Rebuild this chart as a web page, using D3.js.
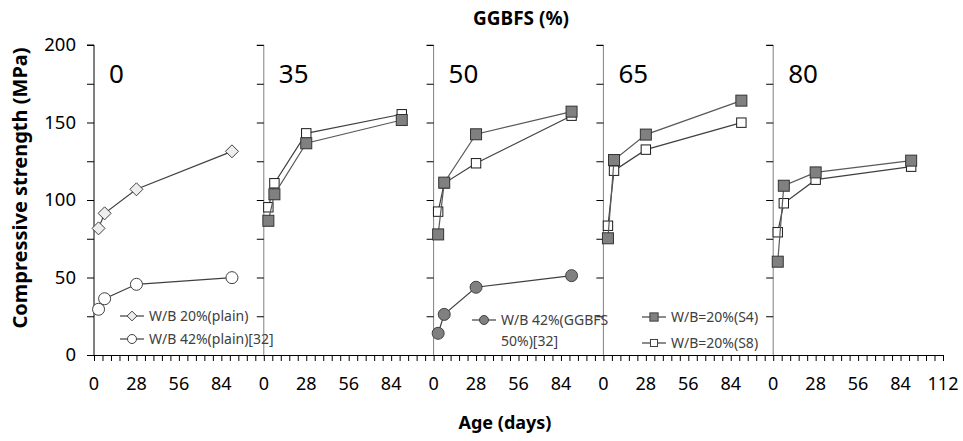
<!DOCTYPE html>
<html>
<head>
<meta charset="utf-8">
<script src="https://cdn.jsdelivr.net/npm/d3@7"></script>
<style>
  body { margin: 0; background: #fff; }
  text { font-family: "Noto Sans", "Open Sans", sans-serif; }
</style>
</head>
<body>
<div id="chart"></div>
<script>
// GGBFS panels, compressive strength vs age

// data
var ggbfsLevels = [0, 35, 50, 65, 80];
var ageDays = [3, 7, 28, 91];
var plainWB20 = [81.7, 91.4, 106.9, 131.4];
var plainWB42 = [29.5, 36.3, 45.6, 49.9];
var ggbfs50WB42 = [14.0, 26.2, 43.7, 51.2];
// S4 and S8 values, one row per panel 35, 50, 65, 80
var s4Values = [
  [86.6, 103.7, 136.6, 151.6],
  [77.8, 111.2, 142.4, 157.0],
  [75.3, 125.8, 142.2, 164.1],
  [60.2, 109.2, 117.8, 125.4]
];
var s8Values = [
  [95.3, 110.8, 143.0, 155.3],
  [92.5, 110.8, 123.7, 154.4],
  [83.4, 118.9, 132.5, 149.9],
  [79.2, 97.9, 113.1, 121.5]
];
var yTicks = [0, 25, 50, 75, 100, 125, 150, 175, 200];

var width = 963, height = 441;
var panelDays = 112;
var lineColor = "#404040";

var svg = d3.select("#chart").append("svg")
  .attr("width", width)
  .attr("height", height);

// one continuous age axis, 112 days per panel
var xScale = d3.scaleLinear()
  .domain([0, panelDays * ggbfsLevels.length])
  .range([94, 943]);

var yScale = d3.scaleLinear()
  .domain([0, 200])
  .range([355, 45]);

// x axis: minor ticks every 5.6 days, labels every 28
var minorTicks = d3.range(0, panelDays * ggbfsLevels.length + 0.01, 5.6);
var labelTicks = d3.range(0, panelDays * ggbfsLevels.length + 0.01, 28);

var xAxis = d3.axisBottom(xScale)
  .tickValues(minorTicks)
  .tickSize(6)
  .tickFormat("");

var gx = svg.append("g")
  .attr("transform", "translate(0," + yScale(0) + ")")
  .call(xAxis);
gx.select(".domain").attr("stroke", "#000");
gx.selectAll(".tick line").attr("stroke", "#000");

svg.append("g").selectAll("text")
  .data(labelTicks)
  .enter().append("text")
  .attr("x", function(d) { return xScale(d); })
  .attr("y", 390)
  .attr("text-anchor", "middle")
  .attr("font-size", "18px")
  .attr("fill", "#000")
  .text(function(d) {
    if (d == panelDays * ggbfsLevels.length) return panelDays;
    return d % panelDays;
  });

// y axes, one per panel
ggbfsLevels.forEach(function(level, i) {
  var yAxis = d3.axisLeft(yScale)
    .tickValues(yTicks)
    .tickSize(7)
    .tickFormat(i == 0 ? function(d) { return d % 50 == 0 ? d : ""; } : "");
  var gy = svg.append("g")
    .attr("transform", "translate(" + xScale(i * panelDays) + ",0)")
    .call(yAxis);
  gy.select(".domain")
    .attr("d", "M-7," + yScale(200) + "H0V" + yScale(0))
    .attr("stroke", i == 0 ? "#000" : "#7f7f7f");
  gy.selectAll(".tick line").attr("stroke", "#000");
  gy.selectAll(".tick text")
    .attr("font-size", "18.5px")
    .attr("font-family", "Noto Sans")
    .attr("fill", "#000")
    .attr("x", -18);

  // panel label
  svg.append("text")
    .attr("x", xScale(i * panelDays) + 15)
    .attr("y", 83)
    .attr("font-size", "26px")
    .attr("fill", "#000")
    .text(level);
});

// marker helpers
function drawSeries(values, offset, shape, fill, stroke, lineStroke) {
  var pts = values.map(function(v, j) {
    return [xScale(offset + ageDays[j]), yScale(v)];
  });
  svg.append("path")
    .attr("d", d3.line()(pts))
    .attr("fill", "none")
    .attr("stroke", lineStroke || lineColor)
    .attr("stroke-width", 1.2);
  pts.forEach(function(p) {
    drawMarker(p[0], p[1], shape, fill, stroke, 1);
  });
}

function drawMarker(x, y, shape, fill, stroke, scale) {
  var m;
  if (shape == "diamond") {
    var s = 6.5 * scale;
    m = svg.append("path")
      .attr("d", "M" + x + "," + (y - s) + "L" + (x + s) + "," + y +
            "L" + x + "," + (y + s) + "L" + (x - s) + "," + y + "Z");
  } else if (shape == "circle") {
    m = svg.append("circle")
      .attr("cx", x).attr("cy", y).attr("r", 6 * scale);
  } else if (shape == "bigsquare") {
    var h = 5.5 * scale;
    m = svg.append("rect")
      .attr("x", x - h).attr("y", y - h)
      .attr("width", 2 * h).attr("height", 2 * h);
  } else {
    var h2 = 4.7 * scale;
    m = svg.append("rect")
      .attr("x", x - h2).attr("y", y - h2)
      .attr("width", 2 * h2).attr("height", 2 * h2);
  }
  m.attr("fill", fill).attr("stroke", stroke).attr("stroke-width", 1);
}

// panel 0 (plain)
drawSeries(plainWB20, 0, "diamond", "#eeeeee", "#404040");
drawSeries(plainWB42, 0, "circle", "#ffffff", "#404040");

// panel 50: W/B 42% reference
drawSeries(ggbfs50WB42, 2 * panelDays, "circle", "#808080", "#404040");

// S8 and S4 in panels 35..80
s4Values.forEach(function(row, k) {
  var offset = (k + 1) * panelDays;
  drawSeries(s8Values[k], offset, "square", "#ffffff", "#1a1a1a");
  drawSeries(row, offset, "bigsquare", "#808080", "#333333", "#595959");
});

// legends
function legendItem(x, y, shape, fill, lines) {
  svg.append("line")
    .attr("x1", x).attr("x2", x + 24)
    .attr("y1", y).attr("y2", y)
    .attr("stroke", lineColor)
    .attr("stroke-width", 1.2);
  drawMarker(x + 12, y, shape, fill, "#404040", 0.75);
  var t = svg.append("text")
    .attr("x", x + 29)
    .attr("y", y + 5)
    .attr("font-size", "14px")
    .attr("fill", "#404040");
  lines.forEach(function(s, j) {
    t.append("tspan")
      .attr("x", x + 29)
      .attr("dy", j == 0 ? 0 : 21)
      .text(s);
  });
}

legendItem(120, 316, "diamond", "#eeeeee", ["W/B 20%(plain)"]);
legendItem(120, 339, "circle", "#ffffff", ["W/B 42%(plain)[32]"]);
legendItem(472, 320, "circle", "#808080", ["W/B 42%(GGBFS", "50%)[32]"]);
legendItem(642, 317, "bigsquare", "#808080", ["W/B=20%(S4)"]);
legendItem(642, 343, "square", "#ffffff", ["W/B=20%(S8)"]);

// titles
svg.append("text")
  .attr("x", 521)
  .attr("y", 25)
  .attr("text-anchor", "middle")
  .attr("font-size", "19px")
  .attr("font-weight", "bold")
  .text("GGBFS (%)");

svg.append("text")
  .attr("x", 505)
  .attr("y", 429)
  .attr("text-anchor", "middle")
  .attr("font-size", "18px")
  .attr("font-weight", "bold")
  .text("Age (days)");

svg.append("text")
  .attr("text-anchor", "middle")
  .attr("transform", "translate(27," + 188 + ")rotate(-90)")
  .attr("font-size", "20px")
  .attr("font-weight", "bold")
  .text("Compressive strength (MPa)");
</script>
</body>
</html>
